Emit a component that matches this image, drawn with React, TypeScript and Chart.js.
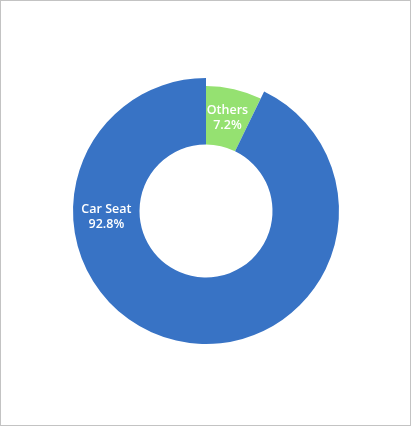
import { useEffect, useRef } from 'react'
import { Chart, registerables, type ChartConfiguration, type Plugin } from 'chart.js'

Chart.register(...registerables)

const categories = ['Others', 'Car Seat']
const shares = [7.2, 92.8]
const colors = ['#95e171', '#3873c5']

// the smaller slice sits a bit inside the big one
const ringTweak: Plugin<'doughnut'> = {
  id: 'ringTweak',
  beforeDatasetsDraw(chart) {
    const arcs = chart.getDatasetMeta(0).data as any[]
    const full = Math.max(...arcs.map(a => a.outerRadius))
    arcs.forEach((a, i) => {
      if (shares[i] < 50) a.outerRadius = full - 8
    })
  },
}

const sliceLabels: Plugin<'doughnut'> = {
  id: 'sliceLabels',
  afterDatasetsDraw(chart) {
    const { ctx } = chart
    const arcs = chart.getDatasetMeta(0).data as any[]
    ctx.save()
    ctx.fillStyle = '#ffffff'
    ctx.font = '600 12.5px "Open Sans", sans-serif'
    ctx.textAlign = 'center'
    ctx.textBaseline = 'middle'
    arcs.forEach((a, i) => {
      const span = a.endAngle - a.startAngle
      const ang = span > Math.PI ? Math.PI - 0.05 : (a.startAngle + a.endAngle) / 2
      const r = (a.innerRadius + a.outerRadius) / 2
      const x = a.x + Math.cos(ang) * r
      const y = a.y + Math.sin(ang) * r
      ctx.fillText(categories[i], x, y - 7)
      ctx.fillText(`${shares[i].toFixed(1)}%`, x, y + 8)
    })
    ctx.restore()
  },
}

export default function App() {
  const ref = useRef<HTMLCanvasElement>(null)
  const chartRef = useRef<Chart | null>(null)

  useEffect(() => {
    document.body.style.margin = '0'
    if (!ref.current) return
    chartRef.current?.destroy()

    const config: ChartConfiguration<'doughnut'> = {
      type: 'doughnut',
      data: {
        labels: categories,
        datasets: [{
          data: shares,
          backgroundColor: colors,
          borderWidth: 0,
        }],
      },
      options: {
        animation: false,
        responsive: true,
        maintainAspectRatio: false,
        cutout: '50%',
        layout: { padding: { left: 72, right: 71, top: 77, bottom: 81 } },
        plugins: {
          legend: { display: false },
          tooltip: { enabled: false },
        },
      },
      plugins: [ringTweak, sliceLabels],
    }

    chartRef.current = new Chart(ref.current, config)
    return () => chartRef.current?.destroy()
  }, [])

  return (
    <div style={{ width: 411, height: 426, boxSizing: 'border-box', border: '1px solid #c3c3c3', background: '#fff' }}>
      <div style={{ position: 'relative', width: 409, height: 424 }}>
        <canvas ref={ref} />
      </div>
    </div>
  )
}
